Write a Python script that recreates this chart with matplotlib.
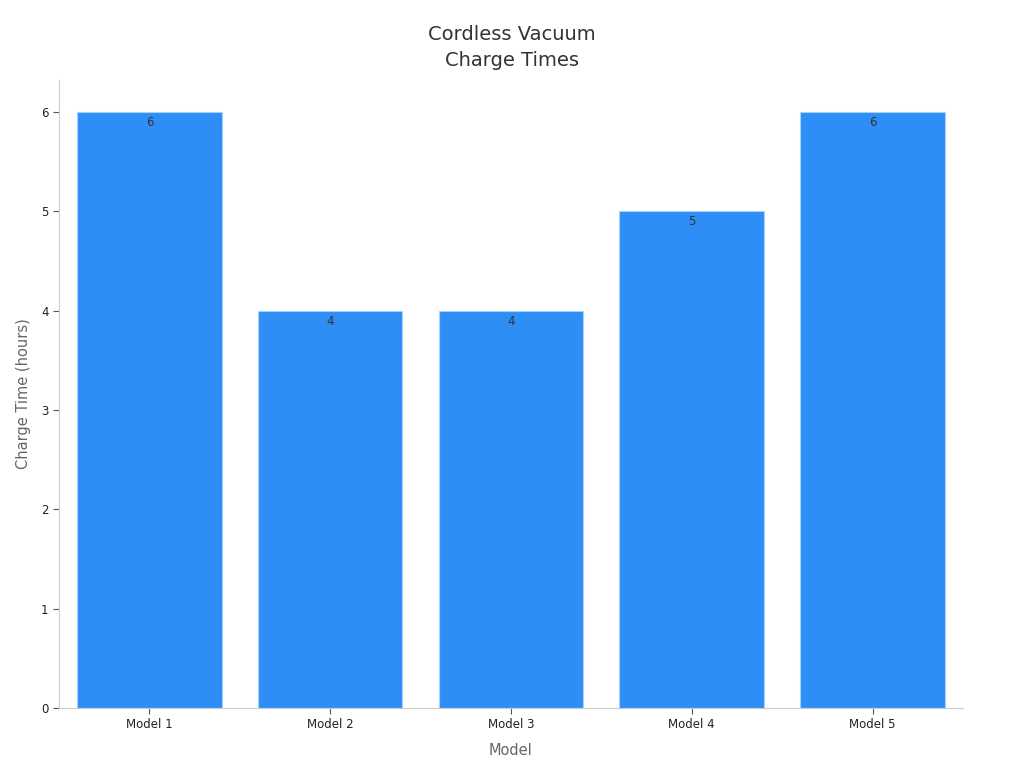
import matplotlib
matplotlib.use("Agg")
import matplotlib.pyplot as plt

# ─── DATA ─────────────────────────────────────────────
models = ["Model 1", "Model 2", "Model 3", "Model 4", "Model 5"]
charge_hours = [6, 4, 4, 5, 6]

# ─── PLOT ─────────────────────────────────────────────
fig = plt.figure(figsize=(10.24, 7.68), dpi=100)
ax = fig.add_axes([0.0576, 0.0781, 0.8828, 0.8177])

bars = ax.bar(models, charge_hours, width=0.8, color="#2d8ff5",
              edgecolor="#a9d0fb", linewidth=0.8)

for rect, v in zip(bars, charge_hours):
    ax.text(rect.get_x() + rect.get_width() / 2, v - 0.04, f"{v}",
            ha="center", va="top", fontsize=8.5, color="#333333")

ax.set_xlim(-0.5, 4.5)
ax.set_ylim(0, 6.32)
ax.set_yticks(range(0, 7))

ax.spines["top"].set_visible(False)
ax.spines["right"].set_visible(False)
ax.spines["left"].set_color("#cccccc")
ax.spines["bottom"].set_color("#cccccc")
ax.tick_params(axis="both", labelsize=8.5, colors="#222222", length=4)
ax.tick_params(axis="both", color="#555555")

ax.set_xlabel("Model", fontsize=10.5, color="#666666", labelpad=8)
ax.set_ylabel("Charge Time (hours)", fontsize=10.5, color="#666666", labelpad=7)
fig.suptitle("Cordless Vacuum\nCharge Times", fontsize=14, color="#333333",
             y=0.967, linespacing=1.45)

fig.savefig("out.png", dpi=100)
